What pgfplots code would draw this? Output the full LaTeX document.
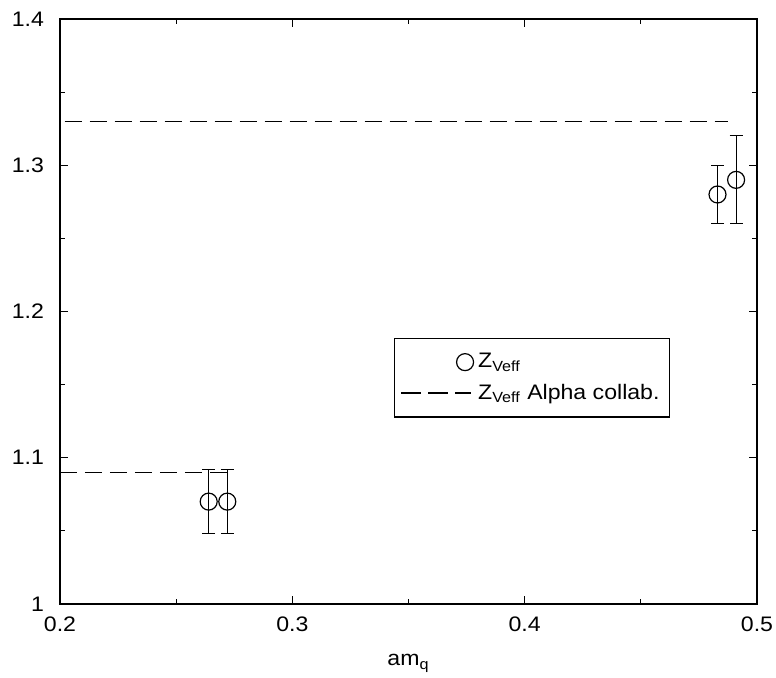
\documentclass[border=0pt]{standalone}
\usepackage{pgfplots}
\pgfplotsset{compat=1.18}
\usepackage{fontspec}
\setmainfont{Liberation Sans}[FakeStretch=1.1]
\begin{document}
\begin{tikzpicture}
\begin{axis}[
  at={(0,0)}, anchor=south west,
  scale only axis,
  width=348.5pt, height=292.5pt,
  xmin=0.2, xmax=0.5, ymin=1, ymax=1.4,
  xtick={0.2,0.3,0.4,0.5}, xticklabels={0.2,0.3,0.4,0.5},
  ytick={1,1.1,1.2,1.3,1.4}, yticklabels={1,1.1,1.2,1.3,1.4},
  minor xtick={0.25,0.35,0.45},
  minor ytick={1.05,1.15,1.25,1.35},
  tick align=inside,
  major tick length=4pt, minor tick length=2.5pt,
  tick style={black, line width=0.5pt},
  axis line style={line width=0.6pt},
  every tick label/.append style={font=\fontsize{10.5}{12}\selectfont},
  yticklabel style={xshift=-4.5pt},
  xticklabel style={yshift=-3pt},
  xlabel={am\textsubscript{q}},
  xlabel style={font=\fontsize{10.5}{12}\selectfont, yshift=-4.5pt},
  legend style={at={(axis cs:0.3437,1.182)}, anchor=north west, draw=black, fill=white,
    font=\fontsize{10.5}{12}\selectfont, line width=0.6pt, inner xsep=3pt, inner ysep=5.5pt,
    row sep=2.5pt},
  legend cell align=left,
]
\addplot[only marks, mark=o, mark size=4.25pt, mark options={fill=white, line width=0.6pt},
  line width=0.6pt,
  error bars/.cd, y dir=both, y explicit, error bar style={line width=0.5pt},
  error mark options={rotate=90, mark size=3.25pt, line width=0.5pt},
  /pgfplots/legend image code/.code={\draw[line width=0.6pt] (32pt,0pt) circle (4.25pt);}]
  coordinates {
  (0.264,1.070) +- (0,0.022)
  (0.272,1.070) +- (0,0.022)
  (0.483,1.280) +- (0,0.020)
  (0.491,1.290) +- (0,0.030)
};
\addlegendentry{Z\textsubscript{Veff}}
\addplot[black, line width=0.6pt, dash pattern=on 8.5pt off 4pt,
  legend image code/.code={\draw[line width=0.6pt, dash pattern=on 10pt off 3.5pt] (0pt,0pt) -- (35pt,0pt);}]
  coordinates {(0.202,1.33) (0.4875,1.33)};
\addlegendentry{Z\textsubscript{Veff} Alpha collab.}
\addplot[black, line width=0.6pt, dash pattern=on 8.5pt off 4pt, forget plot]
  coordinates {(0.2,1.09) (0.274,1.09)};
\end{axis}
\pgfresetboundingbox
\path (-30pt,-37pt) rectangle (358pt,302pt);
\end{tikzpicture}
\end{document}
